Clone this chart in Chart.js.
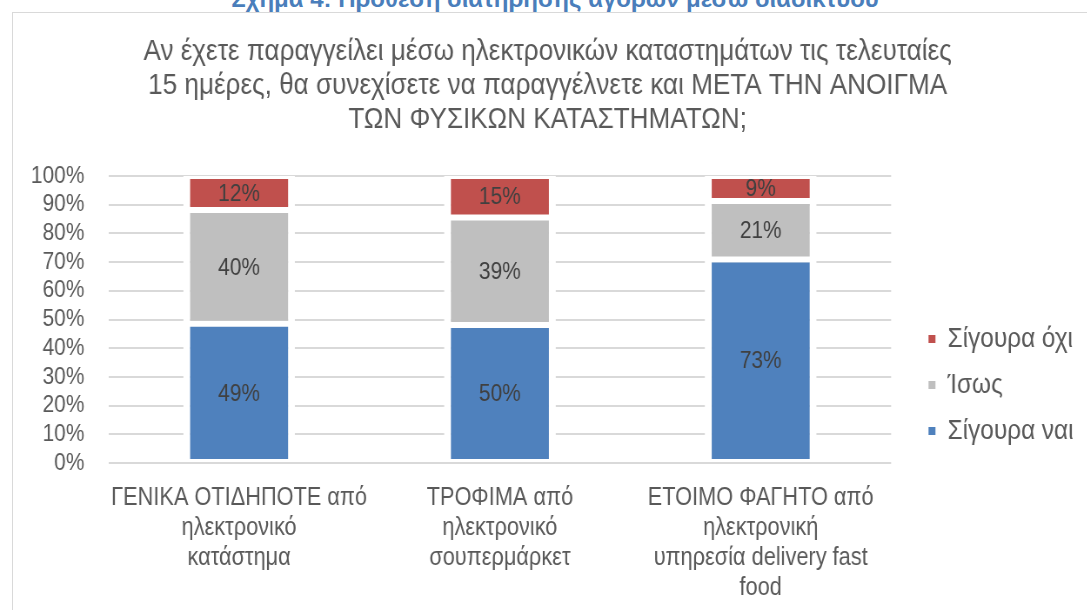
<!DOCTYPE html>
<html>
<head>
<meta charset="utf-8">
<script src="https://cdn.jsdelivr.net/npm/chart.js@4"></script>
<style>
  html, body { margin: 0; padding: 0; background: #fff; overflow: hidden; width: 1087px; height: 610px; }
  #fig { position: absolute; left: 0; top: -15px; width: 1110px; text-align: center; font-family: 'Liberation Sans', Arial, sans-serif; font-weight: bold; font-size: 24px; color: #4a7ebb; white-space: nowrap; }
  #box { position: absolute; left: 12px; top: 12px; width: 1086px; height: 598px; border-left: 1.5px solid #d9d9d9; border-top: 1.5px solid #d9d9d9; background: #fff; overflow: hidden; }
  #squeeze { transform: scaleX(0.87); transform-origin: 0 0; width: 1248px; height: 598px; }
  canvas { display: block; }
</style>
</head>
<body>
<div id="fig">Σχήμα 4: Πρόθεση διατήρησης αγορών μέσω διαδικτύου</div>
<div id="box"><div id="squeeze"><canvas id="c" width="1248" height="598"></canvas></div></div>
<script>
const categories = [
  ["ΓΕΝΙΚΑ ΟΤΙΔΗΠΟΤΕ από", "ηλεκτρονικό", "κατάστημα"],
  ["ΤΡΟΦΙΜΑ από", "ηλεκτρονικό", "σουπερμάρκετ"],
  ["ΕΤΟΙΜΟ ΦΑΓΗΤΟ από", "ηλεκτρονική", "υπηρεσία delivery fast", "food"]
];
const seriesNames = ["Σίγουρα ναι", "Ίσως", "Σίγουρα όχι"];
const yesValues = [49, 50, 73];
const maybeValues = [40, 39, 21];
const noValues = [12, 15, 9];
const yTickLabels = ["0%", "10%", "20%", "30%", "40%", "50%", "60%", "70%", "80%", "90%", "100%"];
const titleLines = [
  "Αν έχετε παραγγείλει μέσω ηλεκτρονικών καταστημάτων τις τελευταίες",
  "15 ημέρες, θα συνεχίσετε να παραγγέλνετε και ΜΕΤΑ ΤΗΝ ΑΝΟΙΓΜΑ",
  "ΤΩΝ ΦΥΣΙΚΩΝ ΚΑΤΑΣΤΗΜΑΤΩΝ;"
];

const FONT = "'Liberation Sans', Arial, sans-serif";
const raw = [yesValues, maybeValues, noValues];
const totals = yesValues.map((v, i) => v + maybeValues[i] + noValues[i]);
const norm = arr => arr.map((v, i) => v / totals[i] * 100);
const colors = ["#4f81bd", "#bfbfbf", "#c0504d"];

const labelPlugin = {
  id: 'segLabels',
  afterDatasetsDraw(chart) {
    const ctx = chart.ctx;
    ctx.save();
    ctx.font = "24px " + FONT;
    ctx.fillStyle = "#404040";
    ctx.textAlign = "center";
    ctx.textBaseline = "middle";
    chart.data.datasets.forEach((ds, di) => {
      const meta = chart.getDatasetMeta(di);
      meta.data.forEach((el, j) => {
        const cy = (el.y + el.base) / 2;
        ctx.fillText(raw[di][j] + "%", el.x, cy + 1);
      });
    });
    ctx.restore();
  }
};

new Chart(document.getElementById('c'), {
  type: 'bar',
  data: {
    labels: categories,
    datasets: seriesNames.map((name, i) => ({
      label: name,
      data: norm(raw[i]),
      backgroundColor: colors[i],
      borderColor: "#ffffff",
      borderWidth: { top: 3, bottom: 3, left: 8, right: 8 },
      borderSkipped: false,
      barPercentage: 0.429,
      categoryPercentage: 1.0
    }))
  },
  options: {
    responsive: false,
    animation: false,
    devicePixelRatio: 1,
    layout: { padding: { left: 0, right: 19, top: 0, bottom: 10 } },
    plugins: {
      title: {
        display: true,
        text: titleLines,
        color: "#595959",
        font: { family: FONT, size: 30, weight: 'normal', lineHeight: 34 / 30 },
        padding: { top: 22, bottom: 39 }
      },
      legend: {
        position: 'right',
        align: 'end',
        fullSize: false,
        reverse: true,
        labels: {
          font: { family: FONT, size: 28 },
          color: "#595959",
          boxWidth: 8,
          boxHeight: 8,
          padding: 18,
          generateLabels: (chart) => chart.data.datasets.map((ds, i) => ({
            text: ds.label,
            fillStyle: colors[i],
            strokeStyle: colors[i],
            lineWidth: 0,
            fontColor: "#595959",
            hidden: false,
            datasetIndex: i
          }))
        }
      },
      tooltip: { enabled: false }
    },
    scales: {
      x: {
        stacked: true,
        grid: { display: false, drawTicks: false },
        border: { display: false },
        afterFit: s => { s.height = 138; },
        ticks: {
          color: "#595959",
          font: { family: FONT, size: 25, lineHeight: 1.2 },
          maxRotation: 0,
          autoSkip: false,
          padding: 20
        }
      },
      y: {
        stacked: true,
        min: 0,
        max: 100,
        border: { display: false },
        grid: { color: "#d9d9d9", lineWidth: 2, drawTicks: false },
        afterFit: s => { s.width = 110; },
        ticks: {
          stepSize: 10,
          autoSkip: false,
          color: "#595959",
          font: { family: FONT, size: 24 },
          padding: 28,
          callback: (v) => yTickLabels[Math.round(v / 10)]
        }
      },
      gap: {
        type: 'linear',
        position: 'right',
        display: true,
        grid: { display: false },
        border: { display: false },
        ticks: { display: false },
        afterFit: s => { s.width = 25; }
      }
    }
  },
  plugins: [labelPlugin]
});
</script>
</body>
</html>
